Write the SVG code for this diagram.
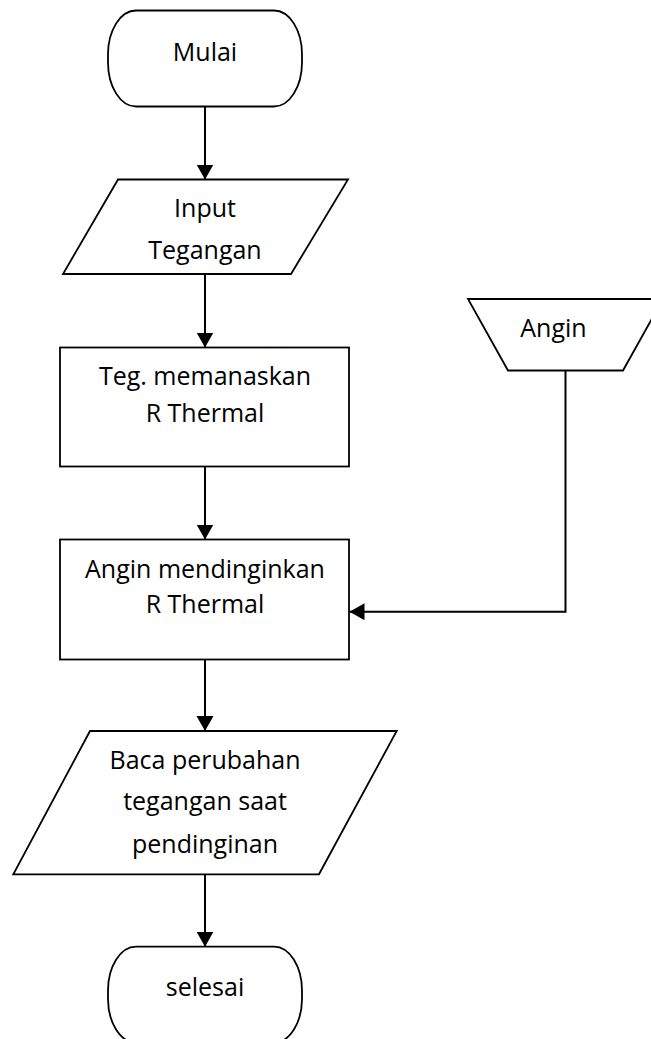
<svg xmlns="http://www.w3.org/2000/svg" width="651" height="1039" viewBox="0 0 651 1039">
  <style>
    .shape { fill: #ffffff; stroke: #000000; stroke-width: 1.8; stroke-linejoin: miter; }
    .conn { fill: none; stroke: #000000; stroke-width: 2; }
    .label { font-family: "Open Sans", "Liberation Sans", sans-serif; font-size: 25px; fill: #000000; text-anchor: middle; }
  </style>
  <defs>
    <marker id="arrow" markerUnits="userSpaceOnUse" markerWidth="16" markerHeight="18" refX="15" refY="8.5" orient="auto">
      <path d="M0,0 L15,8.5 L0,17 Z" fill="#000000"/>
    </marker>
  </defs>

  <rect width="651" height="1039" fill="#ffffff"/>

  <!-- connectors -->
  <g id="connectors">
    <line class="conn" x1="205" y1="106.5" x2="205" y2="179.5" marker-end="url(#arrow)"/>
    <line class="conn" x1="205" y1="274" x2="205" y2="347.5" marker-end="url(#arrow)"/>
    <line class="conn" x1="205" y1="466.5" x2="205" y2="539.5" marker-end="url(#arrow)"/>
    <line class="conn" x1="205" y1="659.5" x2="205" y2="731" marker-end="url(#arrow)"/>
    <line class="conn" x1="205" y1="874.3" x2="205" y2="946.7" marker-end="url(#arrow)"/>
    <polyline class="conn" points="565.5,370.5 565.5,611.7 349.5,611.7" marker-end="url(#arrow)"/>
  </g>

  <!-- start terminator -->
  <g id="node-mulai">
    <path class="shape" d="M136,10.5 L274,10.5 A28,44 0 0 1 302,54.5 L302,62.5 A28,44 0 0 1 274,106.5 L136,106.5 A28,44 0 0 1 108,62.5 L108,54.5 A28,44 0 0 1 136,10.5 Z"/>
    <text class="label" x="205" y="61">Mulai</text>
  </g>

  <!-- input voltage -->
  <g id="node-input">
    <polygon class="shape" points="118,179.5 348,179.5 291,274 63,274"/>
    <text class="label" x="205" y="216.7">Input</text>
    <text class="label" x="205" y="259.3">Tegangan</text>
  </g>

  <!-- heating process -->
  <g id="node-pemanasan">
    <rect class="shape" x="60" y="347.5" width="289" height="119"/>
    <text class="label" x="205" y="385">Teg. memanaskan</text>
    <text class="label" x="205" y="421.7">R Thermal</text>
  </g>

  <!-- wind source -->
  <g id="node-angin">
    <polygon class="shape" points="468,299 663,299 623,370.5 508,370.5"/>
    <text class="label" x="553.5" y="336.7">Angin</text>
  </g>

  <!-- cooling process -->
  <g id="node-pendinginan">
    <rect class="shape" x="60" y="539.5" width="289" height="120"/>
    <text class="label" x="205" y="578">Angin mendinginkan</text>
    <text class="label" x="205" y="613">R Thermal</text>
  </g>

  <!-- read output -->
  <g id="node-baca">
    <polygon class="shape" points="90,731 396.7,731 319,874.3 13.3,874.3"/>
    <text class="label" x="205" y="769.3">Baca perubahan</text>
    <text class="label" x="205" y="810">tegangan saat</text>
    <text class="label" x="205" y="852.7">pendinginan</text>
  </g>

  <!-- end terminator -->
  <g id="node-selesai">
    <path class="shape" d="M136,946.7 L274,946.7 A28,44 0 0 1 302,990.7 L302,998.7 A28,44 0 0 1 274,1042.7 L136,1042.7 A28,44 0 0 1 108,998.7 L108,990.7 A28,44 0 0 1 136,946.7 Z"/>
    <text class="label" x="205" y="996">selesai</text>
  </g>
</svg>
